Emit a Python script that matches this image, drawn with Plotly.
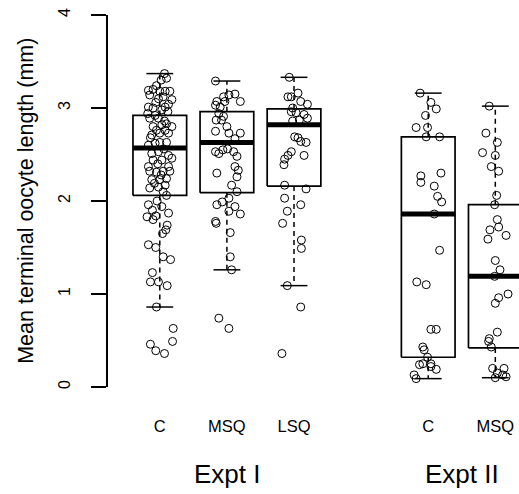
import plotly.graph_objects as go

# ---- data -------------------------------------------------------------
categories = ["C", "MSQ", "LSQ", "C", "MSQ"]
experiments = ["Expt I", "Expt I", "Expt I", "Expt II", "Expt II"]
positions = [1, 2, 3, 5, 6]

# box statistics
q1 = [2.06, 2.09, 2.16, 0.32, 0.42]
median = [2.57, 2.63, 2.82, 1.86, 1.19]
q3 = [2.92, 2.96, 2.99, 2.69, 1.96]
whisker_low = [0.86, 1.26, 1.09, 0.09, 0.10]
whisker_high = [3.37, 3.29, 3.33, 3.16, 3.02]

exp1_c_values = [3.37, 3.32, 3.30, 3.24, 3.19, 3.20, 3.18, 3.18, 3.18, 3.14,
                 3.10, 3.09, 3.04, 3.01, 3.01, 3.00, 2.98, 2.94, 2.92, 2.89,
                 2.89, 2.80, 2.82, 2.83, 2.76, 2.76, 2.80, 2.73, 2.73, 2.71,
                 2.60, 2.62, 2.63, 2.63, 2.51, 2.53, 2.49, 2.44, 2.44, 2.46,
                 2.37, 2.37, 2.32, 2.31, 2.32, 2.32, 2.23, 2.23, 2.24, 2.14,
                 2.15, 2.17, 2.06, 1.96, 2.00, 1.90, 1.94, 1.83, 1.84, 1.87,
                 1.80, 1.74, 1.69, 1.65, 1.53, 1.50, 1.40, 1.37, 1.23, 1.13,
                 1.13, 1.09, 0.86, 0.63, 0.49, 0.46, 0.39, 0.36, 3.12, 2.96,
                 2.86, 2.68, 2.56, 2.40, 2.28, 2.19, 2.10, 3.06]
exp1_c_jitter = [0.07, 0.10, 0.02, -0.05, -0.17, -0.10, 0.00, 0.08, 0.15, -0.15,
                 -0.02, 0.18, 0.13, 0.08, -0.17, -0.10, 0.03, -0.18, -0.07, -0.15,
                 -0.02, -0.10, 0.03, 0.10, -0.05, 0.08, 0.18, 0.00, 0.13, -0.12,
                 -0.17, -0.07, 0.00, 0.10, -0.12, -0.02, 0.13, -0.10, 0.03, 0.18,
                 -0.17, 0.13, -0.15, -0.05, 0.05, 0.15, -0.12, 0.00, 0.10, -0.15,
                 -0.02, 0.08, 0.10, -0.17, -0.04, -0.11, 0.03, -0.19, -0.06, 0.13,
                 -0.10, 0.11, 0.09, 0.04, -0.17, -0.06, 0.05, 0.16, -0.11, -0.14,
                 -0.02, 0.11, -0.05, 0.20, 0.19, -0.14, -0.06, 0.07, 0.05, 0.12,
                 0.07, -0.14, 0.06, -0.03, 0.02, -0.08, 0.05, -0.06]

exp1_msq_values = [3.29, 3.14, 3.15, 3.12, 3.07, 3.07, 3.07, 3.03, 3.01, 2.94,
                   2.91, 2.87, 2.87, 2.80, 2.75, 2.73, 2.73, 2.67, 2.53, 2.55,
                   2.56, 2.53, 2.51, 2.48, 2.37, 2.30, 2.33, 2.26, 2.17, 2.10,
                   2.03, 1.96, 1.99, 1.94, 1.86, 1.89, 1.78, 1.76, 1.66, 1.40,
                   1.26, 0.74, 0.63]
exp1_msq_jitter = [-0.17, 0.03, 0.12, -0.05, -0.15, -0.03, 0.20, -0.17, -0.10, -0.12,
                   -0.05, -0.08, -0.16, 0.00, -0.17, 0.03, 0.20, 0.12, -0.17, -0.06,
                   0.01, 0.10, -0.12, 0.15, 0.12, -0.15, 0.17, 0.15, 0.07, 0.15,
                   0.03, -0.15, -0.07, 0.12, 0.20, 0.03, -0.17, -0.16, 0.05, 0.05,
                   0.07, -0.12, 0.03]

exp1_lsq_values = [3.33, 3.16, 3.12, 3.12, 3.07, 3.04, 3.00, 2.96, 2.95, 2.93,
                   2.87, 2.89, 2.86, 2.69, 2.68, 2.64, 2.63, 2.53, 2.49, 2.45,
                   2.49, 2.39, 2.17, 2.13, 2.03, 1.96, 1.89, 1.76, 1.58, 1.49,
                   1.09, 0.86, 0.36]
exp1_lsq_jitter = [-0.07, 0.06, -0.09, -0.04, 0.10, 0.20, -0.02, -0.04, 0.03, 0.15,
                   0.08, 0.20, -0.02, 0.01, 0.06, 0.10, 0.18, -0.04, -0.09, -0.14,
                   0.15, -0.15, -0.14, 0.18, -0.14, 0.10, -0.10, -0.17, 0.11, 0.11,
                   -0.10, 0.10, -0.18]

exp2_c_values = [3.16, 3.06, 2.99, 2.92, 2.79, 2.79, 2.69, 2.69, 2.27, 2.20,
                 2.30, 2.16, 2.05, 1.99, 1.86, 1.47, 1.13, 1.10, 0.62, 0.62,
                 0.43, 0.40, 0.32, 0.24, 0.25, 0.25, 0.19, 0.13, 0.09, 0.22]
exp2_c_jitter = [-0.12, 0.04, 0.12, -0.04, -0.18, -0.01, -0.03, 0.17, -0.11, -0.11,
                 0.19, 0.09, 0.14, 0.20, 0.09, 0.17, -0.17, -0.03, 0.04, 0.12,
                 -0.08, -0.06, -0.01, -0.13, -0.08, 0.04, 0.12, -0.21, -0.18, 0.04]

exp2_msq_values = [3.02, 2.73, 2.63, 2.52, 2.49, 2.37, 2.32, 2.06, 1.96, 1.80,
                   1.69, 1.72, 1.59, 1.63, 1.36, 1.26, 1.19, 1.00, 0.96, 0.90,
                   0.59, 0.52, 0.49, 0.43, 0.20, 0.20, 0.15, 0.13, 0.11, 0.10]
exp2_msq_jitter = [-0.09, -0.14, 0.03, -0.19, 0.00, -0.06, 0.05, 0.02, -0.01, 0.03,
                   -0.08, 0.05, -0.11, 0.16, 0.00, 0.07, -0.01, 0.19, 0.05, 0.00,
                   0.03, -0.09, -0.10, -0.06, -0.04, 0.13, 0.03, 0.11, 0.16, 0.00]

group_values = [exp1_c_values, exp1_msq_values, exp1_lsq_values, exp2_c_values, exp2_msq_values]
group_jitter = [exp1_c_jitter, exp1_msq_jitter, exp1_lsq_jitter, exp2_c_jitter, exp2_msq_jitter]

# ---- style ------------------------------------------------------------
FONT = "Liberation Sans, Arial, Helvetica, sans-serif"
BOX_HALF = 0.4
STAPLE_HALF = 0.2

fig = go.Figure()

# boxes, whiskers, staples, medians
bx, by = [], []
wx, wy = [], []
sx, sy = [], []
mx, my = [], []
for p, a, m, b, lo, hi in zip(positions, q1, median, q3, whisker_low, whisker_high):
    bx += [p - BOX_HALF, p + BOX_HALF, p + BOX_HALF, p - BOX_HALF, p - BOX_HALF, None]
    by += [a, a, b, b, a, None]
    wx += [p, p, None, p, p, None]
    wy += [b, hi, None, a, lo, None]
    sx += [p - STAPLE_HALF, p + STAPLE_HALF, None, p - STAPLE_HALF, p + STAPLE_HALF, None]
    sy += [hi, hi, None, lo, lo, None]
    mx += [p - BOX_HALF, p + BOX_HALF, None]
    my += [m, m, None]

fig.add_trace(go.Scatter(x=wx, y=wy, mode="lines",
                         line=dict(color="black", width=1.5, dash="5px,4px"),
                         hoverinfo="skip", showlegend=False))
fig.add_trace(go.Scatter(x=sx, y=sy, mode="lines",
                         line=dict(color="black", width=1.5),
                         hoverinfo="skip", showlegend=False))
fig.add_trace(go.Scatter(x=bx, y=by, mode="lines",
                         line=dict(color="black", width=1.7),
                         hoverinfo="skip", showlegend=False))
fig.add_trace(go.Scatter(x=mx, y=my, mode="lines",
                         line=dict(color="black", width=5),
                         hoverinfo="skip", showlegend=False))

# jittered points
for p, vals, jit, cat, exp in zip(positions, group_values, group_jitter, categories, experiments):
    fig.add_trace(go.Scatter(
        x=[p + j for j in jit], y=vals, mode="markers",
        marker=dict(symbol="circle-open", size=8, color="black", line=dict(width=1)),
        name=f"{exp} {cat}", showlegend=False))

# experiment group labels
for exp in ["Expt I", "Expt II"]:
    pos = [p for p, e in zip(positions, experiments) if e == exp]
    fig.add_annotation(x=sum(pos) / len(pos), xref="x", y=-0.235, yref="paper",
                       text=exp, showarrow=False, yanchor="middle",
                       font=dict(family=FONT, size=26, color="black"))

# y-axis title
fig.add_annotation(x=-0.2, xref="paper", y=0.5, yref="paper",
                   text="Mean terminal oocyte length (mm)", textangle=-90,
                   showarrow=False, xanchor="center", yanchor="middle",
                   font=dict(family=FONT, size=21.5, color="black"))

fig.update_layout(
    width=519, height=494,
    margin=dict(l=108, r=0, t=15, b=107),
    paper_bgcolor="white", plot_bgcolor="white",
    font=dict(family=FONT, color="black"),
    showlegend=False,
    xaxis=dict(range=[0.228, 6.353], tickvals=positions, ticktext=categories,
               showline=False, ticks="", showgrid=False, zeroline=False,
               tickfont=dict(size=16.5), ticklabelstandoff=27),
    yaxis=dict(range=[0, 4], tickvals=[0, 1, 2, 3, 4], showline=True,
               linecolor="black", linewidth=1.5, ticks="outside", ticklen=15,
               tickwidth=1.5, tickcolor="black", tickangle=-90,
               showgrid=False, zeroline=False, tickfont=dict(size=16),
               ticklabelstandoff=15),
)

fig.write_html(
    "out.html",
    config={"displayModeBar": False},
    post_script="document.body.style.margin='0';document.body.style.overflow='hidden';",
)
